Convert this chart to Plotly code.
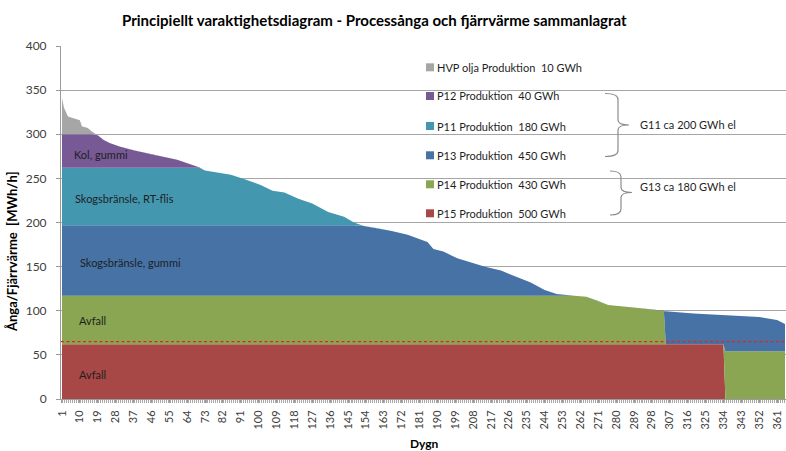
import numpy as np
import plotly.graph_objects as go

# ---------------- data ----------------
days = [1, 2, 4, 7, 10, 11, 14, 16, 19, 22, 25, 30, 37, 47, 52, 59, 64, 70, 73, 86,
        93, 101, 107, 113, 120, 127, 135, 143, 148, 153, 160, 167, 175, 185, 188, 193, 200, 207, 214, 222,
        230, 237, 244, 250, 259, 265, 270, 276, 285, 297, 304, 305, 319, 334, 335, 352, 361, 365]
total = [341, 330, 320, 318, 316, 309, 307, 303, 299, 293.5, 290, 286, 282, 276.5, 274.5, 271, 267, 262.5, 259, 254,
         249, 242.5, 236, 234, 227, 221.5, 212, 206.5, 200, 196, 193.5, 190.5, 186, 178, 170, 167, 159.5, 154.5, 150, 145.5,
         138.5, 132, 123.5, 119, 117, 116, 112, 106.5, 104.5, 101.5, 100, 99.5, 97, 95.2, 95, 93, 89.5, 85]

# capacity levels of the units (MWh/h) and change-over days
p15_level = 62
p15_last_day = 334
p14_level = 117
p14_last_day = 304
p14_late_level = 54
p13_level = 197
p11_level = 262
p12_level = 300
min_level = 65

tick_days = [1, 10, 19, 28, 37, 46, 55, 64, 73, 82, 91, 100, 109, 118, 127, 136, 145, 154, 163, 172,
             181, 190, 199, 208, 217, 226, 235, 244, 253, 262, 271, 280, 289, 298, 307, 316, 325, 334, 343, 352, 361]
y_ticks = [0, 50, 100, 150, 200, 250, 300, 350, 400]

legend_labels = ["HVP olja Produktion\u00a0 10 GWh", "P12 Produktion\u00a0 40 GWh", "P11 Produktion\u00a0 180 GWh",
                 "P13 Produktion\u00a0 450 GWh", "P14 Produktion\u00a0 430 GWh", "P15 Produktion\u00a0 500 GWh"]
brace_labels = ["G11 ca 200 GWh el", "G13 ca 180 GWh el"]
area_labels = ["Kol, gummi", "Skogsbränsle, RT-flis", "Skogsbränsle, gummi", "Avfall", "Avfall"]
area_label_pos = [(6, 277), (6.5, 227), (9, 155), (8.5, 89), (8.5, 28)]

colors = {"gray": "#A6A6A6", "purple": "#765995", "teal": "#4398B0",
          "blue": "#4672A6", "green": "#8AA652", "red": "#A84846"}
legend_colors = [colors["gray"], colors["purple"], colors["teal"], colors["blue"], colors["green"], colors["red"]]

# ---------------- layer thicknesses ----------------
d = np.array(days, dtype=float)
t = np.array(total, dtype=float)
late = d > p15_last_day
red = np.where(d <= p15_last_day, p15_level, 0)
green = np.where(d <= p14_last_day, np.minimum(t, p14_level) - p15_level,
                 np.where(late, p14_late_level, 0))
blue_early = np.clip(np.minimum(t, p13_level) - p14_level, 0, None)
blue_late = t - np.where(late, p14_late_level, p15_level)
blue = np.where(d <= p14_last_day, blue_early, blue_late)
teal = np.clip(np.minimum(t, p11_level) - p13_level, 0, None)
purple = np.clip(np.minimum(t, p12_level) - p11_level, 0, None)
gray = np.clip(t - p12_level, 0, None)

fig = go.Figure()
for name, vals, col in [("P15", red, colors["red"]), ("P14", green, colors["green"]),
                        ("P13", blue, colors["blue"]), ("P11", teal, colors["teal"]),
                        ("P12", purple, colors["purple"]), ("HVP", gray, colors["gray"])]:
    fig.add_trace(go.Scatter(x=days, y=vals, name=name, mode="lines", stackgroup="one",
                             line=dict(width=0, color=col), fillcolor=col, showlegend=False))

# ---------------- layout geometry (pixels) ----------------
W, H = 786, 451
L, R, T, B = 61, 786, 46, 399


def px(x):
    return (x - L) / (R - L)


def py(y):
    return (B - y) / (B - T)


FONT = "Lato"
TXT = "#1F1F1F"

shapes = []
annotations = []

# dashed minimum line
shapes.append(dict(type="line", xref="paper", yref="y", x0=0, x1=1, y0=min_level, y1=min_level,
                   line=dict(color="#E0261E", width=1.2, dash="3px,2.5px"), layer="above"))

# white legend box hiding gridlines
shapes.append(dict(type="rect", xref="paper", yref="paper", x0=px(393), x1=px(770), y0=py(226), y1=py(52),
                   fillcolor="white", line=dict(width=0), layer="below"))

rows = [67.3, 96, 126, 155.3, 184.3, 213.3]
for lab, col, ry in zip(legend_labels, legend_colors, rows):
    shapes.append(dict(type="rect", xref="paper", yref="paper", x0=px(426), x1=px(434),
                       y0=py(ry + 4), y1=py(ry - 4), fillcolor=col, line=dict(width=0), layer="above"))
    annotations.append(dict(text=lab, xref="paper", yref="paper", x=px(435), y=py(ry),
                            xanchor="left", yanchor="middle", showarrow=False,
                            font=dict(family=FONT, size=11, color=TXT)))


def brace(x0, xm, xt, y0, ym, y1):
    return (f"M {px(x0)},{py(y0)} Q {px(xm)},{py(y0)} {px(xm)},{py(y0 + 6)} "
            f"L {px(xm)},{py(ym - 5)} Q {px(xm)},{py(ym)} {px(xt)},{py(ym)} "
            f"Q {px(xm)},{py(ym)} {px(xm)},{py(ym + 5)} "
            f"L {px(xm)},{py(y1 - 6)} Q {px(xm)},{py(y1)} {px(x0)},{py(y1)}")


for path in [brace(605, 618, 629, 93.5, 125, 156.5), brace(610, 621, 632, 171, 192.5, 215)]:
    shapes.append(dict(type="path", xref="paper", yref="paper", path=path,
                       line=dict(color="#8C8C8C", width=1.2), layer="above"))

for lab, ry in zip(brace_labels, [125, 187]):
    annotations.append(dict(text=lab, xref="paper", yref="paper", x=px(638), y=py(ry),
                            xanchor="left", yanchor="middle", showarrow=False,
                            font=dict(family=FONT, size=11, color=TXT)))

for lab, (ax, ay) in zip(area_labels, area_label_pos):
    annotations.append(dict(text=lab, xref="x", yref="y", x=ax, y=ay, xanchor="left", yanchor="middle",
                            showarrow=False, font=dict(family=FONT, size=11, color=TXT)))

# titles
annotations.append(dict(text="<b>Principiellt varaktighetsdiagram - Processånga och fjärrvärme sammanlagrat</b>",
                        xref="paper", yref="paper", x=px(374), y=py(20), xanchor="center", yanchor="middle",
                        showarrow=False, font=dict(family=FONT, size=15, color="black")))
annotations.append(dict(text="<b>Dygn</b>", xref="paper", yref="paper", x=px(424), y=py(444),
                        xanchor="center", yanchor="middle", showarrow=False,
                        font=dict(family=FONT, size=12, color="black")))
annotations.append(dict(text="<b>Ånga/Fjärrvärme  [MWh/h]</b>", xref="paper", yref="paper", x=px(12), y=py(252),
                        xanchor="center", yanchor="middle", textangle=-90, showarrow=False,
                        font=dict(family=FONT, size=13, color="black")))

fig.update_layout(
    width=W, height=H,
    margin=dict(l=L, r=W - R, t=T, b=H - B),
    paper_bgcolor="white", plot_bgcolor="white",
    font=dict(family=FONT, color="#404040"),
    showlegend=False,
    shapes=shapes, annotations=annotations,
    xaxis=dict(range=[0.5, 365.5], tickmode="array", tickvals=tick_days, ticktext=[str(v) for v in tick_days],
               tickangle=-90, tickfont=dict(size=11, color="#404040"), ticks="outside", ticklen=3,
               tickcolor="#9A9A9A", showgrid=False, showline=True, linecolor="#9A9A9A", zeroline=False,
               ticklabelstandoff=3,
               minor=dict(tickmode="linear", tick0=0.5, dtick=1, ticks="outside", ticklen=3,
                          tickcolor="#A8A8A8", showgrid=False)),
    yaxis=dict(range=[0, 400], tickmode="array", tickvals=y_ticks, ticktext=[str(v) for v in y_ticks],
               tickfont=dict(size=12, color="#404040"), ticks="outside", ticklen=4, tickcolor="#9A9A9A",
               showgrid=True, gridcolor="#A6A6A6", gridwidth=1, showline=True, linecolor="#9A9A9A",
               zeroline=False, ticklabelstandoff=7),
)

fig.write_html("out.html", config={"displayModeBar": False},
               post_script="document.body.style.margin='0';document.body.style.overflow='hidden';"
                           "document.documentElement.style.overflow='hidden';")
